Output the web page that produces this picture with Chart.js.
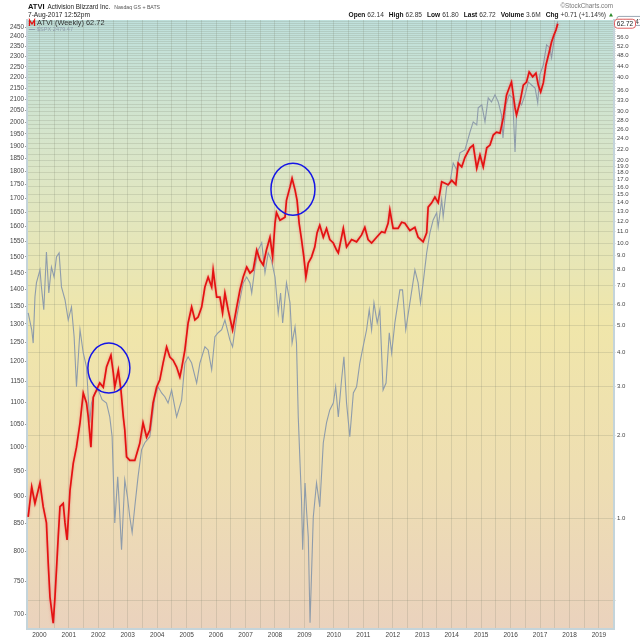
<!DOCTYPE html>
<html>
<head>
<meta charset="utf-8">
<script src="https://cdn.jsdelivr.net/npm/chart.js@4.4.0/dist/chart.umd.min.js"></script>
<style>
  html, body { margin: 0; padding: 0; background: #fff; }
  canvas { display: block; }
</style>
</head>
<body>
<canvas id="chart" width="640" height="640"></canvas>
<script>
// weekly ATVI (right log axis)
const atviYears = [1999.62,1999.74,1999.85,2000.02,2000.13,2000.24,2000.30,2000.36,2000.47,2000.53,
  2000.58,2000.64,2000.70,2000.81,2000.87,2000.94,2001.04,2001.15,2001.26,2001.38,
  2001.49,2001.60,2001.66,2001.75,2001.83,2001.94,2002.05,2002.17,2002.28,2002.43,
  2002.51,2002.56,2002.68,2002.77,2002.85,2002.90,2002.96,2003.07,2003.24,2003.41,
  2003.52,2003.64,2003.75,2003.86,2003.98,2004.09,2004.20,2004.32,2004.43,2004.54,
  2004.66,2004.77,2004.83,2004.94,2005.05,2005.17,2005.28,2005.39,2005.51,2005.62,
  2005.73,2005.85,2005.90,2006.02,2006.13,2006.22,2006.30,2006.41,2006.56,2006.70,
  2006.81,2006.92,2007.04,2007.15,2007.26,2007.38,2007.49,2007.60,2007.71,2007.83,
  2007.92,2008.00,2008.05,2008.17,2008.34,2008.39,2008.51,2008.58,2008.68,2008.75,
  2008.82,2008.90,2008.98,2009.05,2009.13,2009.24,2009.35,2009.43,2009.52,2009.64,
  2009.75,2009.86,2009.98,2010.09,2010.15,2010.32,2010.43,2010.60,2010.77,2010.94,
  2011.05,2011.16,2011.28,2011.45,2011.62,2011.73,2011.84,2011.90,2012.01,2012.18,
  2012.30,2012.41,2012.58,2012.75,2012.86,2013.03,2013.15,2013.20,2013.32,2013.43,
  2013.54,2013.66,2013.77,2013.88,2014.00,2014.14,2014.22,2014.34,2014.45,2014.62,
  2014.73,2014.85,2014.96,2015.07,2015.19,2015.30,2015.41,2015.52,2015.64,2015.75,
  2015.86,2015.95,2016.03,2016.15,2016.20,2016.32,2016.43,2016.54,2016.63,2016.75,
  2016.86,2016.94,2017.02,2017.11,2017.20,2017.31,2017.39,2017.47,2017.54,2017.60];
const atviClose = [1.01,1.30,1.13,1.34,1.10,0.96,0.686,0.516,0.415,0.516,
  0.647,0.853,1.10,1.13,0.96,0.832,1.26,1.58,1.81,2.22,
  2.85,2.62,2.33,1.81,2.75,2.92,3.10,2.99,3.54,3.91,
  3.37,2.99,3.45,2.92,2.33,2.09,1.67,1.62,1.62,1.87,
  2.22,1.97,2.09,2.62,2.99,3.18,3.66,4.19,3.85,3.75,
  3.54,3.26,3.50,4.08,5.12,5.85,5.25,5.38,5.85,6.92,
  7.52,6.92,7.98,6.36,6.36,5.57,6.58,5.71,4.83,5.85,
  6.75,7.52,8.18,7.78,7.98,9.43,8.67,8.32,9.43,10.5,
  8.89,11.8,12.9,12.1,12.4,14.3,16.0,17.2,15.6,14.3,
  11.8,10.3,8.89,7.52,8.46,8.89,9.67,10.9,11.6,10.5,
  11.3,10.3,10.0,9.43,9.20,11.3,9.67,10.3,10.1,10.7,
  11.4,10.3,10.0,10.5,11.0,10.9,11.8,13.2,11.3,11.3,
  11.9,11.8,11.1,11.4,10.5,10.1,10.9,13.5,14.0,14.7,
  14.0,16.7,16.5,16.3,16.9,16.3,19.5,18.9,20.5,22.2,
  22.7,18.7,20.9,18.9,22.2,22.7,24.7,25.3,25.1,28.5,
  34.5,36.6,38.5,31.0,29.2,32.6,37.5,38.5,41.9,40.2,
  41.5,37.5,35.4,38.2,44.4,49.5,53.8,57.1,59.5,62.72];

// $SPX (left log axis)
const spxYears = [1999.62,1999.74,1999.79,1999.85,1999.90,2000.02,2000.07,2000.15,2000.24,2000.32,
  2000.41,2000.50,2000.58,2000.67,2000.75,2000.87,2000.98,2001.09,2001.18,2001.26,
  2001.38,2001.49,2001.60,2001.71,2001.77,2001.88,2002.00,2002.13,2002.28,2002.39,
  2002.47,2002.56,2002.66,2002.71,2002.79,2002.90,2002.99,2003.07,2003.15,2003.24,
  2003.35,2003.47,2003.58,2003.75,2003.92,2004.03,2004.15,2004.26,2004.37,2004.49,
  2004.66,2004.83,2004.94,2005.05,2005.17,2005.34,2005.45,2005.62,2005.73,2005.85,
  2005.96,2006.07,2006.19,2006.30,2006.47,2006.56,2006.70,2006.81,2006.92,2007.04,
  2007.15,2007.21,2007.32,2007.43,2007.55,2007.66,2007.77,2007.88,2008.00,2008.11,
  2008.19,2008.26,2008.39,2008.51,2008.58,2008.68,2008.73,2008.79,2008.85,2008.90,
  2008.94,2009.02,2009.07,2009.13,2009.19,2009.30,2009.41,2009.52,2009.64,2009.75,
  2009.86,2009.98,2010.06,2010.15,2010.26,2010.34,2010.43,2010.54,2010.66,2010.77,
  2010.88,2010.99,2011.11,2011.20,2011.28,2011.36,2011.47,2011.56,2011.67,2011.77,
  2011.88,2011.96,2012.07,2012.24,2012.33,2012.44,2012.58,2012.75,2012.86,2012.94,
  2013.03,2013.15,2013.26,2013.37,2013.49,2013.54,2013.66,2013.71,2013.83,2013.94,
  2014.05,2014.17,2014.28,2014.45,2014.62,2014.73,2014.85,2014.90,2015.02,2015.13,
  2015.24,2015.35,2015.47,2015.58,2015.69,2015.74,2015.84,2015.95,2016.07,2016.15,
  2016.20,2016.29,2016.37,2016.49,2016.60,2016.71,2016.83,2016.92,2016.99,2017.11,
  2017.22,2017.33,2017.39,2017.50,2017.60];
const spxClose = [1331,1284,1248,1377,1419,1459,1407,1340,1516,1389,
  1468,1437,1500,1513,1407,1369,1311,1348,1265,1137,
  1284,1222,1186,1053,1098,1122,1129,1106,1098,1066,
  1022,850,938,887,803,932,899,861,833,880,
  938,994,1009,1022,1113,1137,1122,1113,1098,1129,
  1066,1105,1196,1212,1196,1146,1196,1238,1230,1179,
  1265,1276,1284,1311,1256,1238,1320,1369,1419,1437,
  1419,1389,1468,1522,1546,1450,1513,1490,1437,1331,
  1389,1303,1419,1360,1248,1292,1248,1066,966,893,
  803,926,874,825,687,861,926,880,1009,1053,
  1082,1098,1137,1066,1154,1212,1098,1022,1122,1137,
  1196,1238,1284,1340,1284,1360,1303,1340,1129,1146,
  1276,1222,1303,1398,1398,1284,1360,1459,1419,1360,
  1419,1513,1579,1623,1648,1599,1694,1634,1742,1757,
  1833,1806,1873,1885,1958,2001,1988,2062,2075,2001,
  2106,2088,2120,2088,2031,1934,2075,2120,2106,1877,
  2031,2088,2075,2120,2179,2165,2151,2084,2212,2259,
  2358,2343,2294,2409,2479.47];

const yearLabels = [2000,2001,2002,2003,2004,2005,2006,2007,2008,2009,
  2010,2011,2012,2013,2014,2015,2016,2017,2018,2019];
const spxTicks = [700,750,800,850,900,950,1000,1050,1100,1150,1200,1250,1300,1350,1400,1450,
  1500,1550,1600,1650,1700,1750,1800,1850,1900,1950,2000,2050,2100,2150,2200,2250,2300,2350,2400,2450];
const atviTicks = [0.5,1,2,3,4,5,6,7,8,9,10,11,12,13,14,15,16,17,18,19,20,21,22,23,24,25,26,27,28,29,30,
  31,32,33,34,35,36,37,38,39,40,41,42,43,44,45,46,47,48,49,50,51,52,53,54,55,56,57,58,59,60,61,62,63,64];
const atviTickLabels = [1,2,3,4,5,6,7,8,9,10,11,12,13,14,15,16,17,18,19,20,22,24,26,28,30,33,36,40,44,48,52,56];

// the two hand-drawn circles: centre in (year, ATVI price)
const markCircles = [
  { year: 2002.36, price: 3.51, rx: 21, ry: 25 },
  { year: 2008.61, price: 15.7, rx: 22, ry: 26 }
];

const quoteItems = [['Open','62.14'],['High','62.85'],['Low','61.80'],['Last','62.72'],
  ['Volume','3.6M'],['Chg','+0.71 (+1.14%)']];

const FF = '"Liberation Sans", Arial, sans-serif';
function font(sz, bold) { return (bold ? 'bold ' : '') + sz + 'px ' + FF; }
function put(ctx, x, y, t, f, c) {
  ctx.font = f; ctx.fillStyle = c; ctx.fillText(t, x, y);
  return x + ctx.measureText(t).width;
}

const gridYears = [];
yearLabels.forEach(y => { gridYears.push(y); gridYears.push(y + 0.5); });

const backdrop = {
  id: 'backdrop',
  beforeDraw(chart) {
    const { ctx, chartArea: a } = chart;
    const g = ctx.createLinearGradient(0, a.top, 0, a.bottom);
    g.addColorStop(0, '#bfe0dc');
    g.addColorStop(0.25, '#dce6c6');
    g.addColorStop(0.5, '#f0e6aa');
    g.addColorStop(0.75, '#eedeb2');
    g.addColorStop(1, '#ead2bd');
    ctx.save();
    ctx.fillStyle = g;
    ctx.fillRect(a.left, a.top, a.right - a.left, a.bottom - a.top);
    ctx.restore();
  }
};

// soft pink halo round the weekly ATVI bars
const halo = {
  id: 'halo',
  beforeDatasetDraw(chart, args) {
    if (args.index !== 0) return;
    chart.ctx.save();
    chart.ctx.shadowColor = 'rgba(235,110,110,0.75)';
    chart.ctx.shadowBlur = 2.5;
  },
  afterDatasetDraw(chart, args) {
    if (args.index !== 0) return;
    chart.ctx.restore();
  }
};

const circles = {
  id: 'circles',
  afterDatasetsDraw(chart) {
    const { ctx, scales } = chart;
    ctx.save();
    ctx.strokeStyle = '#1515e6';
    ctx.lineWidth = 1.5;
    markCircles.forEach(c => {
      ctx.beginPath();
      ctx.ellipse(scales.x.getPixelForValue(c.year), scales.yR.getPixelForValue(c.price), c.rx, c.ry, 0, 0, Math.PI * 2);
      ctx.stroke();
    });
    ctx.restore();
  }
};

const header = {
  id: 'header',
  afterDraw(chart) {
    const { ctx, scales } = chart;
    ctx.save();
    ctx.textAlign = 'left';
    ctx.textBaseline = 'alphabetic';
    // title lines
    let x = put(ctx, 28, 9, 'ATVI', font(7.5, true), '#111') + 3;
    x = put(ctx, x, 9, 'Activision Blizzard Inc.', font(6.3), '#222') + 4;
    put(ctx, x, 9, 'Nasdaq GS + BATS', font(5.2), '#555');
    put(ctx, 28, 17, '7-Aug-2017 12:52pm', font(6.6), '#222');

    ctx.textAlign = 'right';
    put(ctx, 613, 8, '\u00A9StockCharts.com', font(6.3), '#777');
    ctx.textAlign = 'left';
    let w = 0;
    quoteItems.forEach(([k, v], i) => {
      ctx.font = font(6.6, true); w += ctx.measureText(k).width + 2;
      ctx.font = font(6.6); w += ctx.measureText(v).width + (i < quoteItems.length - 1 ? 5 : 0);
    });
    x = 606 - w;
    quoteItems.forEach(([k, v]) => {
      x = put(ctx, x, 17, k, font(6.6, true), '#111') + 2;
      x = put(ctx, x, 17, v, font(6.6), '#333') + 5;
    });
    ctx.fillStyle = '#2b8a2b';
    ctx.beginPath();
    ctx.moveTo(609, 16.5); ctx.lineTo(613, 16.5); ctx.lineTo(611, 13); ctx.closePath(); ctx.fill();

    // legend inside the plot
    ctx.strokeStyle = '#e01010';
    ctx.lineWidth = 1.3;
    ctx.beginPath();
    ctx.moveTo(29.5, 26); ctx.lineTo(29.5, 20); ctx.lineTo(32, 24); ctx.lineTo(34.5, 20); ctx.lineTo(34.5, 26);
    ctx.stroke();
    put(ctx, 37, 25, 'ATVI (Weekly) 62.72', font(7.4), '#333');
    ctx.strokeStyle = '#8e9cab';
    ctx.lineWidth = 1;
    ctx.beginPath(); ctx.moveTo(29, 29.5); ctx.lineTo(35, 29.5); ctx.stroke();
    put(ctx, 37, 31, '$SPX 2479.47', font(5.6), '#8e9cab');

    // last-value tags on the right axis
    const ys = scales.yL.getPixelForValue(spxClose[spxClose.length - 1]);
    ctx.fillStyle = '#fff';
    ctx.strokeStyle = '#9aa8b4';
    ctx.beginPath(); ctx.roundRect(617, ys - 5, 36, 9, 2); ctx.fill(); ctx.stroke();
    put(ctx, 619, ys + 2.5, '2479.47', font(6.5), '#333');
    const ya = scales.yR.getPixelForValue(atviClose[atviClose.length - 1]);
    ctx.fillStyle = '#fff';
    ctx.strokeStyle = '#e06060';
    ctx.beginPath(); ctx.roundRect(614.5, ya - 4.5, 21, 9, 3); ctx.fill(); ctx.stroke();
    ctx.textAlign = 'center';
    put(ctx, 625, ya + 2.5, '62.72', font(6.5), '#222');
    ctx.restore();
  }
};

const gridColor = 'rgba(120,125,105,0.2)';
const borderColor = '#c4d4da';

new Chart(document.getElementById('chart'), {
  type: 'line',
  data: {
    datasets: [
      {
        label: 'ATVI (Weekly)',
        data: atviYears.map((y, i) => ({ x: y, y: atviClose[i] })),
        yAxisID: 'yR',
        borderColor: '#e41212',
        borderWidth: 1.7,
        pointRadius: 0,
        tension: 0
      },
      {
        label: '$SPX',
        data: spxYears.map((y, i) => ({ x: y, y: spxClose[i] })),
        yAxisID: 'yL',
        borderColor: '#8e9cab',
        borderWidth: 1.1,
        pointRadius: 0,
        tension: 0
      }
    ]
  },
  options: {
    responsive: false,
    animation: false,
    layout: { padding: { top: 20, left: 0, right: 0, bottom: 0 } },
    plugins: { legend: { display: false }, tooltip: { enabled: false } },
    scales: {
      x: {
        type: 'linear',
        min: 1999.58,
        max: 2019.51,
        afterBuildTicks: s => { s.ticks = gridYears.map(v => ({ value: v })); },
        afterFit: s => { s.height = 11; },
        grid: { color: gridColor, drawTicks: false },
        border: { color: borderColor, width: 2 },
        ticks: {
          autoSkip: false, maxRotation: 0, padding: 2,
          font: { family: FF, size: 6.5 }, color: '#444',
          callback: v => Number.isInteger(v) ? String(v) : ''
        }
      },
      yL: {
        type: 'logarithmic',
        position: 'left',
        min: 678,
        max: 2487,
        afterBuildTicks: s => { s.ticks = spxTicks.map(v => ({ value: v })); },
        afterFit: s => { s.width = 27; },
        grid: { drawOnChartArea: false, drawTicks: true, tickLength: 2, color: '#999' },
        border: { color: borderColor, width: 2 },
        ticks: {
          autoSkip: false, padding: 1,
          font: { family: FF, size: 6.3 }, color: '#444',
          callback: v => String(v)
        }
      },
      yR: {
        type: 'logarithmic',
        position: 'right',
        min: 0.395,
        max: 64.7,
        afterBuildTicks: s => { s.ticks = atviTicks.map(v => ({ value: v })); },
        afterFit: s => { s.width = 26; },
        grid: { color: gridColor, drawTicks: true, tickLength: 2 },
        border: { color: borderColor, width: 2 },
        ticks: {
          autoSkip: false, padding: 1,
          font: { family: FF, size: 6 }, color: '#444',
          callback: v => atviTickLabels.includes(v) ? v.toFixed(1) : ''
        }
      }
    }
  },
  plugins: [backdrop, halo, circles, header]
});
</script>
</body>
</html>
